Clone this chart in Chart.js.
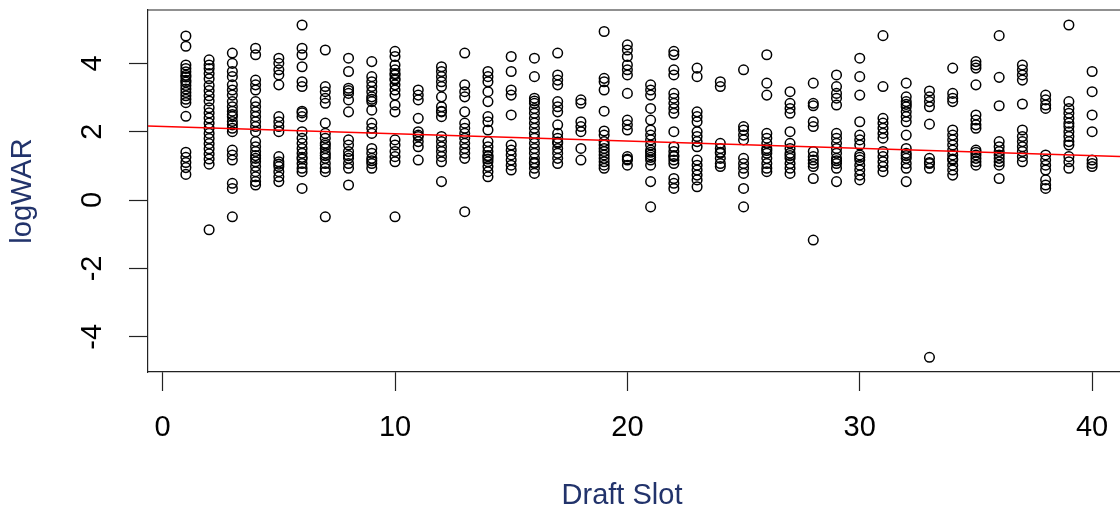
<!DOCTYPE html>
<html>
<head>
<meta charset="utf-8">
<title>logWAR by Draft Slot</title>
<script src="https://cdn.jsdelivr.net/npm/chart.js@4.4.1/dist/chart.umd.min.js"></script>
<style>
  html, body { margin: 0; padding: 0; background: #fff; }
  #wrap { width: 1120px; height: 512px; }
</style>
</head>
<body>
<div id="wrap"><canvas id="myChart" width="1120" height="512"></canvas></div>
<script>
// draft slots 1..40
var draftSlots = [1, 2, 3, 4, 5, 6, 7, 8, 9, 10, 11, 12, 13, 14, 15, 16, 17, 18, 19, 20,
    21, 22, 23, 24, 25, 26, 27, 28, 29, 30, 31, 32, 33, 34, 35, 36, 37, 38, 39, 40];

// logWAR of each player, one list per draft slot (same order as draftSlots)
var logWarBySlot = [
    [4.8, 4.5, 3.95, 3.85, 3.75, 3.65, 3.6, 3.5, 3.45, 3.35, 3.25, 3.15, 3.05, 2.95, 2.85, 2.45, 1.4, 1.25, 1.1, 0.95, 0.75],
    [4.1, 3.95, 3.85, 3.7, 3.55, 3.35, 3.2, 3.05, 2.9, 2.7, 2.55, 2.4, 2.25, 2.1, 1.95, 1.8, 1.65, 1.5, 1.35, 1.2, 1.05, -0.87],
    [4.3, 4.0, 3.76, 3.61, 3.37, 3.22, 3.07, 2.88, 2.73, 2.6, 2.5, 2.44, 2.3, 2.2, 2.1, 2.0, 1.46, 1.32, 1.17, 0.49, 0.34, -0.49],
    [4.44, 4.25, 3.51, 3.37, 3.22, 2.88, 2.73, 2.58, 2.44, 2.29, 2.15, 2.0, 1.71, 1.56, 1.42, 1.3, 1.22, 1.12, 0.98, 0.83, 0.68, 0.54, 0.44],
    [4.15, 4.0, 3.81, 3.66, 3.37, 2.44, 2.29, 2.15, 2.0, 1.27, 1.12, 1.05, 0.98, 0.83, 0.68, 0.54],
    [5.12, 4.44, 4.25, 3.9, 3.46, 3.32, 2.6, 2.55, 2.44, 2.0, 1.81, 1.66, 1.51, 1.37, 1.25, 1.2, 1.07, 0.93, 0.83, 0.34],
    [4.39, 3.32, 3.17, 2.98, 2.83, 2.25, 1.95, 1.81, 1.66, 1.6, 1.51, 1.37, 1.3, 1.22, 1.07, 0.93, 0.83, -0.49],
    [4.15, 3.76, 3.27, 3.2, 3.12, 2.93, 2.58, 1.76, 1.61, 1.42, 1.3, 1.22, 1.07, 0.93, 0.44],
    [4.05, 3.61, 3.46, 3.32, 3.17, 3.02, 2.95, 2.88, 2.63, 2.25, 2.1, 1.95, 1.51, 1.37, 1.22, 1.15, 1.07, 0.93],
    [4.35, 4.2, 3.95, 3.81, 3.7, 3.66, 3.55, 3.51, 3.37, 3.22, 3.07, 2.78, 2.58, 1.76, 1.61, 1.42, 1.27, 1.12, -0.49],
    [3.22, 3.07, 2.93, 2.39, 2.0, 1.9, 1.86, 1.71, 1.56, 1.17],
    [3.9, 3.76, 3.61, 3.46, 3.32, 3.02, 2.73, 2.6, 2.58, 2.44, 1.86, 1.71, 1.56, 1.42, 1.27, 1.12, 0.54],
    [4.3, 3.37, 3.17, 3.02, 2.58, 2.25, 2.1, 1.95, 1.81, 1.66, 1.51, 1.37, 1.22, -0.34],
    [3.76, 3.61, 3.46, 3.17, 2.88, 2.44, 2.29, 2.05, 1.71, 1.56, 1.42, 1.3, 1.27, 1.2, 1.12, 0.98, 0.83, 0.68],
    [4.2, 3.76, 3.22, 3.07, 2.49, 1.61, 1.46, 1.32, 1.17, 1.02, 0.88],
    [4.15, 3.61, 2.98, 2.9, 2.83, 2.68, 2.54, 2.39, 2.25, 2.1, 1.95, 1.81, 1.66, 1.51, 1.37, 1.22, 1.1, 1.07, 0.93, 0.78],
    [4.3, 3.66, 3.51, 3.37, 2.88, 2.73, 2.58, 2.2, 1.95, 1.81, 1.7, 1.66, 1.51, 1.37, 1.22, 1.07],
    [2.93, 2.83, 2.29, 2.15, 2.0, 1.51, 1.17],
    [4.93, 3.56, 3.46, 3.22, 2.6, 2.02, 1.9, 1.71, 1.61, 1.51, 1.42, 1.32, 1.22, 1.12, 1.02, 0.93],
    [4.54, 4.39, 4.2, 3.95, 3.81, 3.66, 3.12, 2.34, 2.2, 2.05, 1.27, 1.2, 1.17, 1.02],
    [3.37, 3.22, 3.07, 2.68, 2.34, 2.05, 1.9, 1.76, 1.61, 1.46, 1.4, 1.32, 1.25, 1.17, 1.02, 0.54, -0.2],
    [4.35, 4.25, 3.81, 3.66, 3.12, 2.98, 2.83, 2.68, 2.54, 2.0, 1.56, 1.42, 1.3, 1.27, 1.17, 1.07, 0.63, 0.49, 0.34],
    [3.86, 3.61, 2.58, 2.44, 2.29, 2.0, 1.86, 1.71, 1.56, 1.17, 1.02, 0.88, 0.73, 0.59, 0.39],
    [3.46, 3.32, 1.66, 1.51, 1.4, 1.37, 1.22, 1.07, 0.98],
    [3.81, 2.15, 2.05, 1.9, 1.76, 1.22, 1.07, 0.93, 0.78, 0.34, -0.2],
    [4.25, 3.42, 3.07, 1.95, 1.81, 1.66, 1.51, 1.45, 1.37, 1.22, 1.07, 0.93, 0.83],
    [3.17, 2.83, 2.68, 2.54, 2.0, 1.66, 1.51, 1.37, 1.3, 1.22, 1.07, 0.93, 0.78],
    [3.42, 2.83, 2.76, 2.29, 2.15, 1.42, 1.27, 1.17, 1.07, 0.98, 0.63, -1.17],
    [3.66, 3.32, 3.12, 2.98, 2.78, 1.95, 1.81, 1.66, 1.51, 1.37, 1.22, 1.15, 1.07, 0.93, 0.54],
    [4.15, 3.61, 3.07, 2.29, 1.9, 1.76, 1.61, 1.32, 1.25, 1.17, 1.02, 0.88, 0.73, 0.59],
    [4.81, 3.32, 2.39, 2.25, 2.1, 1.95, 1.81, 1.42, 1.27, 1.12, 0.98, 0.83],
    [3.42, 3.02, 2.88, 2.8, 2.73, 2.58, 2.44, 2.29, 1.9, 1.51, 1.37, 1.3, 1.22, 1.07, 0.93, 0.54],
    [3.19, 3.02, 2.88, 2.73, 2.22, 1.22, 1.1, 1.07, 0.93, -4.6],
    [3.86, 3.12, 2.98, 2.88, 2.05, 1.9, 1.76, 1.61, 1.46, 1.32, 1.2, 1.17, 1.02, 0.88, 0.73],
    [4.05, 3.95, 3.86, 3.37, 2.49, 2.34, 2.2, 2.1, 1.46, 1.4, 1.32, 1.22, 1.12, 1.02],
    [4.81, 3.59, 2.76, 1.71, 1.56, 1.42, 1.32, 1.22, 1.12, 1.02, 0.63],
    [3.95, 3.81, 3.66, 3.51, 2.81, 2.05, 1.86, 1.71, 1.56, 1.42, 1.27, 1.12],
    [3.07, 2.93, 2.78, 2.68, 1.32, 1.17, 1.02, 0.88, 0.59, 0.44, 0.34],
    [5.12, 2.88, 2.68, 2.54, 2.39, 2.25, 2.15, 2.0, 1.86, 1.71, 1.61, 1.27, 1.12, 0.93],
    [3.76, 3.17, 2.49, 2.0, 1.17, 1.07, 0.98]
];

// least squares fit logWAR ~ slot
var fitIntercept = 2.15;
var fitSlope = -0.0213;

var xTicks = [0, 10, 20, 30, 40];
var yTicks = [-4, -2, 0, 2, 4];
var yTickLabels = ['-4', '-2', '0', '2', '4'];

var xMin = -0.63, xMax = 41.2;
var yMin = -5.03, yMax = 5.56;

var fontFamily = '"Liberation Sans", Arial, sans-serif';
var axisColor = '#222';
var titleColor = '#22336b';

var points = [];
draftSlots.forEach(function (slot, i) {
    logWarBySlot[i].forEach(function (v) {
        points.push({ x: slot, y: v });
    });
});

var fitLine = [
    { x: xMin, y: fitIntercept + fitSlope * xMin },
    { x: xMax, y: fitIntercept + fitSlope * xMax }
];

// top edge of the plot box, rotated y tick labels and the x axis title
var boxAndLabels = {
    id: 'boxAndLabels',
    afterDraw: function (chart) {
        var ctx = chart.ctx, a = chart.chartArea, y = chart.scales.y;
        ctx.save();
        ctx.strokeStyle = axisColor;
        ctx.lineWidth = 1.2;
        ctx.beginPath();
        ctx.moveTo(a.left, a.top);
        ctx.lineTo(a.right, a.top);
        ctx.stroke();

        ctx.fillStyle = '#000';
        ctx.font = '29px ' + fontFamily;
        ctx.textAlign = 'center';
        ctx.textBaseline = 'middle';
        y.ticks.forEach(function (t, i) {
            ctx.save();
            ctx.translate(a.left - 55.5, y.getPixelForValue(t.value));
            ctx.rotate(-Math.PI / 2);
            ctx.fillText(yTickLabels[i], 0, 0);
            ctx.restore();
        });

        ctx.fillStyle = titleColor;
        ctx.fillText('Draft Slot', (a.left + a.right) / 2 - 12, a.bottom + 124);
        ctx.restore();
    }
};

var ctx = document.getElementById('myChart').getContext('2d');
var chart = new Chart(ctx, {
    type: 'scatter',
    data: {
        datasets: [{
            type: 'line',
            data: fitLine,
            borderColor: '#ff0000',
            borderWidth: 1.5,
            pointRadius: 0,
            fill: false,
            order: 0
        }, {
            data: points,
            pointStyle: 'circle',
            pointRadius: 4.8,
            pointBorderWidth: 1.5,
            borderColor: '#000',
            backgroundColor: 'rgba(0,0,0,0)',
            order: 1
        }]
    },
    options: {
        responsive: false,
        animation: false,
        events: [],
        layout: { autoPadding: false, padding: { top: 10, right: 0, bottom: 0, left: 0 } },
        plugins: {
            legend: { display: false },
            tooltip: { enabled: false }
        },
        scales: {
            x: {
                type: 'linear',
                min: xMin,
                max: xMax,
                afterBuildTicks: function (s) { s.ticks = xTicks.map(function (v) { return { value: v }; }); },
                afterFit: function (s) {
                    s.height = 140;
                    // plot runs right up to the canvas edge
                    s.paddingLeft = 0;
                    s.paddingRight = 0;
                },
                grid: { drawOnChartArea: false, drawTicks: true, tickLength: 19, tickColor: axisColor, tickWidth: 1.2 },
                border: { display: true, color: axisColor, width: 1.2 },
                ticks: {
                    color: '#000',
                    padding: 22,
                    maxRotation: 0,
                    font: { family: fontFamily, size: 29, lineHeight: 1 }
                },
                title: { display: false }
            },
            y: {
                type: 'linear',
                min: yMin,
                max: yMax,
                afterBuildTicks: function (s) { s.ticks = yTicks.map(function (v) { return { value: v }; }); },
                afterFit: function (s) { s.width = 148; },
                grid: { drawOnChartArea: false, drawTicks: true, tickLength: 19, tickColor: axisColor, tickWidth: 1.2 },
                border: { display: true, color: axisColor, width: 1.2 },
                ticks: { display: false },
                title: {
                    display: true,
                    text: 'logWAR',
                    color: titleColor,
                    padding: { top: 8, bottom: 0 },
                    font: { family: fontFamily, size: 29, lineHeight: 1 }
                }
            }
        }
    },
    plugins: [boxAndLabels]
});
</script>
</body>
</html>
